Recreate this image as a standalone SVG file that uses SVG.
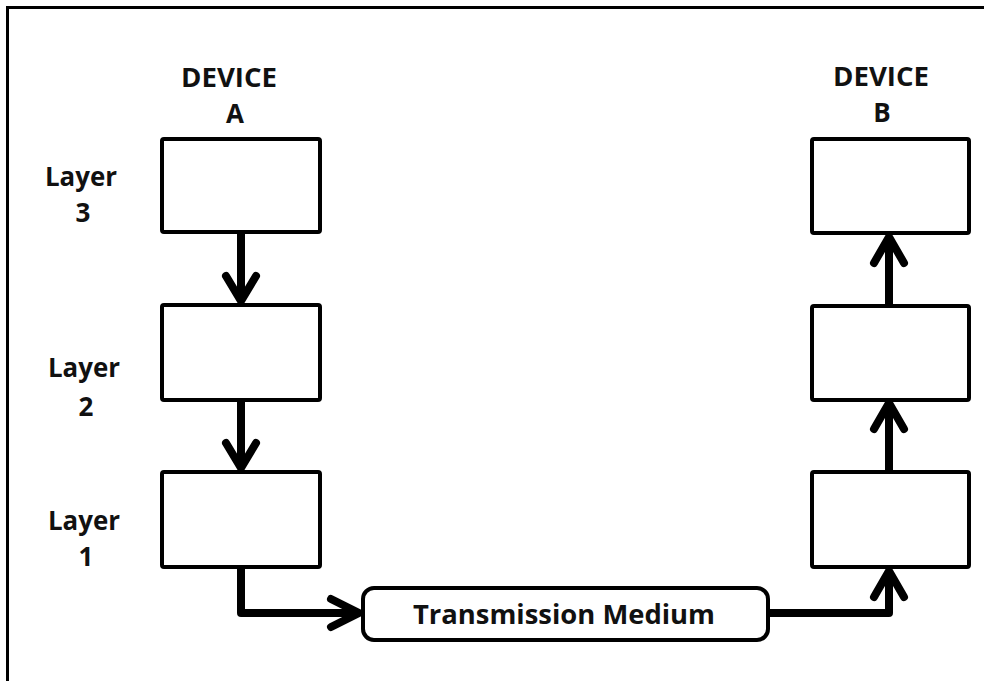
<svg xmlns="http://www.w3.org/2000/svg" width="984" height="681" viewBox="0 0 984 681">
<style>
.box{fill:#fff;stroke:#000;stroke-width:4}
.lbl{font-family:"Open Sans","Liberation Sans",sans-serif;font-weight:bold;font-size:26px;fill:#111;text-anchor:middle}
.con{fill:none;stroke:#000;stroke-width:8;stroke-linecap:round;stroke-linejoin:round}
</style>
<rect width="984" height="681" fill="#fff"/>
<path d="M7.5 681 V7.5 H984" fill="none" stroke="#000" stroke-width="3"/>
<g id="labels">
<text class="lbl" x="229" y="87" textLength="96" lengthAdjust="spacingAndGlyphs">DEVICE</text>
<text class="lbl" x="235" y="123">A</text>
<text class="lbl" x="881" y="86" textLength="96" lengthAdjust="spacingAndGlyphs">DEVICE</text>
<text class="lbl" x="882" y="122">B</text>
<text class="lbl" x="81" y="186" textLength="72" lengthAdjust="spacingAndGlyphs">Layer</text>
<text class="lbl" x="83" y="222">3</text>
<text class="lbl" x="84" y="377" textLength="72" lengthAdjust="spacingAndGlyphs">Layer</text>
<text class="lbl" x="86" y="416">2</text>
<text class="lbl" x="84" y="530" textLength="72" lengthAdjust="spacingAndGlyphs">Layer</text>
<text class="lbl" x="86" y="566">1</text>
</g>
<g id="A3"><rect class="box" x="162" y="139" width="158" height="93" rx="2"/></g>
<g id="A2"><rect class="box" x="162" y="305" width="158" height="95" rx="2"/></g>
<g id="A1"><rect class="box" x="162" y="472" width="158" height="95" rx="2"/></g>
<g id="B3"><rect class="box" x="812" y="139" width="157" height="94" rx="2"/></g>
<g id="B2"><rect class="box" x="812" y="306" width="157" height="94" rx="2"/></g>
<g id="B1"><rect class="box" x="812" y="472" width="157" height="95" rx="2"/></g>
<g id="TM">
<rect class="box" x="363" y="588" width="405" height="52" rx="11"/>
<text class="lbl" x="564" y="624" textLength="302" lengthAdjust="spacingAndGlyphs">Transmission Medium</text>
</g>
<g id="connectors">
<path class="con" d="M241 234 V300 M226 276 L241 301 L256 276"/>
<path class="con" d="M241 402 V467 M226 443 L241 468 L256 443"/>
<path class="con" d="M241 569 V613 H358 M331 599 L359 613 L331 627"/>
<path class="con" d="M770 613 H889 V573 M874 597 L889 571 L904 597"/>
<path class="con" d="M889 470 V404 M874 429 L889 403 L904 429"/>
<path class="con" d="M889 304 V238 M874 263 L889 237 L904 263"/>
</g>
</svg>
